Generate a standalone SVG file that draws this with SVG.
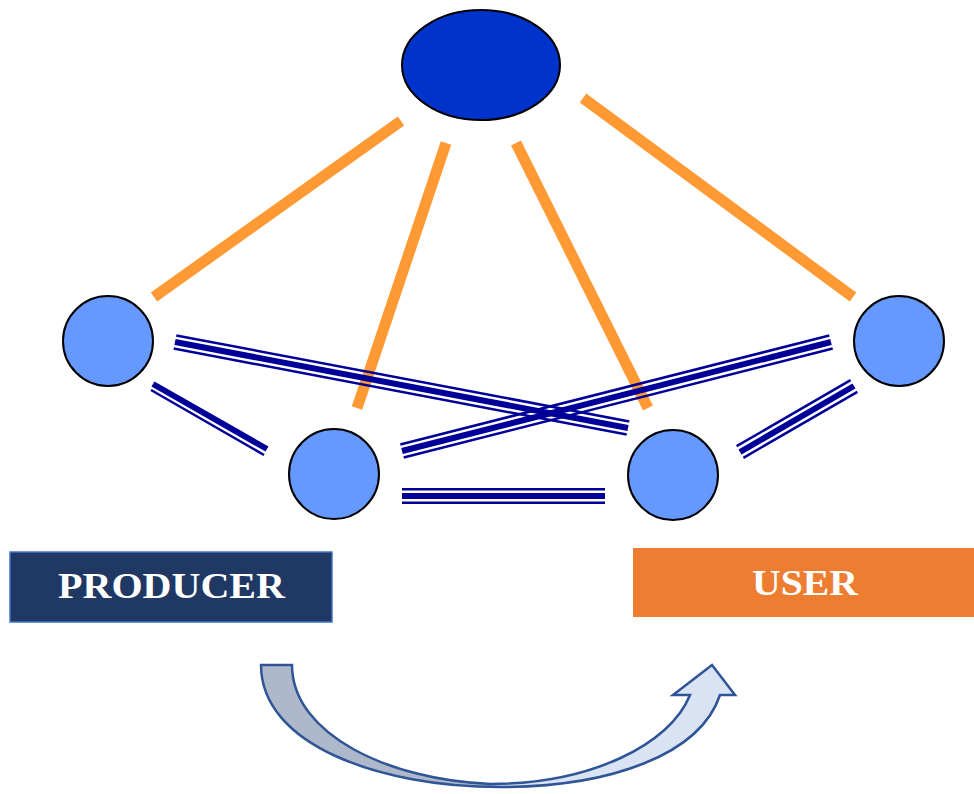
<svg xmlns="http://www.w3.org/2000/svg" width="974" height="794" viewBox="0 0 974 794">
<style>
.node{fill:#6699FF;stroke:#000;stroke-width:2}
.orange{stroke:#FF9933;stroke-width:11;fill:none}
.thin{stroke:#000099;stroke-width:2.5;fill:none}
.thick{stroke:#000099;stroke-width:6;fill:none}
.label{font-family:"Liberation Serif","Times New Roman",serif;font-weight:bold;font-size:36px;fill:#fff;text-anchor:middle}
</style>
<defs>
<linearGradient id="arrowFill" x1="261" y1="0" x2="735" y2="0" gradientUnits="userSpaceOnUse">
<stop offset="0" stop-color="#ADB9CA"/>
<stop offset="0.47" stop-color="#ADB9CA"/>
<stop offset="0.53" stop-color="#DAE3F3"/>
<stop offset="1" stop-color="#DAE3F3"/>
</linearGradient>
</defs>
<rect width="974" height="794" fill="#fff"/>
<g id="connectors">
<line class="orange" x1="401" y1="121" x2="154" y2="297"/>
<line class="orange" x1="446" y1="143" x2="357" y2="408"/>
<line class="orange" x1="516" y1="143" x2="648" y2="408"/>
<line class="orange" x1="583" y1="98" x2="853" y2="297"/>
<g id="link-left-bottomleft">
<line class="thick" x1="153" y1="384" x2="267" y2="449"/>
<line class="thin" x1="151" y1="390" x2="264" y2="455"/>
</g>
<g id="link-left-bottomright">
<line class="thin" x1="176.3" y1="335.4" x2="629.3" y2="421.4"/>
<line class="thick" x1="175" y1="342" x2="628" y2="428"/>
<line class="thin" x1="173.7" y1="348.6" x2="626.7" y2="434.6"/>
</g>
<g id="link-bottomleft-right">
<line class="thin" x1="403.7" y1="457.5" x2="832.7" y2="348.5"/>
<line class="thick" x1="402" y1="451" x2="831" y2="342"/>
<line class="thin" x1="400.3" y1="444.5" x2="829.3" y2="335.5"/>
</g>
<g id="link-bottomleft-bottomright">
<line class="thin" x1="402" y1="489.25" x2="605" y2="489.25"/>
<line class="thick" x1="402" y1="496" x2="605" y2="496"/>
<line class="thin" x1="402" y1="502.75" x2="605" y2="502.75"/>
</g>
<g id="link-right-bottomright">
<line class="thin" x1="743.4" y1="457.8" x2="857.4" y2="391.8"/>
<line class="thick" x1="740" y1="452" x2="854" y2="386"/>
<line class="thin" x1="736.6" y1="446.2" x2="850.6" y2="380.2"/>
</g>
</g>
<g id="top-node"><ellipse cx="481" cy="65" rx="79" ry="55" fill="#0033CC" stroke="#000" stroke-width="2"/></g>
<g id="left-node"><circle class="node" cx="108" cy="341" r="45"/></g>
<g id="right-node"><circle class="node" cx="899" cy="341" r="45"/></g>
<g id="bottom-left-node"><circle class="node" cx="334" cy="474" r="45"/></g>
<g id="bottom-right-node"><circle class="node" cx="673" cy="475" r="45"/></g>
<g id="producer">
<rect x="10" y="552" width="322" height="70" fill="#1F3864" stroke="#4472C4" stroke-width="1.5"/>
<text class="label" x="171.5" y="598" textLength="227" lengthAdjust="spacingAndGlyphs">PRODUCER</text>
</g>
<g id="user">
<rect x="633" y="548" width="341" height="69" fill="#ED7D31"/>
<text class="label" x="805" y="595" textLength="106" lengthAdjust="spacingAndGlyphs">USER</text>
</g>
<g id="flow-arrow">
<path d="M261,665 L292,665 C292,735 390,780 490,784 C590,784 670,745 690,695 L673,695 L712,665 L735,695 L720,695 C700,755 610,787 500,787 C380,787 261,745 261,665 Z" fill="url(#arrowFill)" stroke="#2F5597" stroke-width="2.5" stroke-linejoin="miter"/>
</g>
</svg>
